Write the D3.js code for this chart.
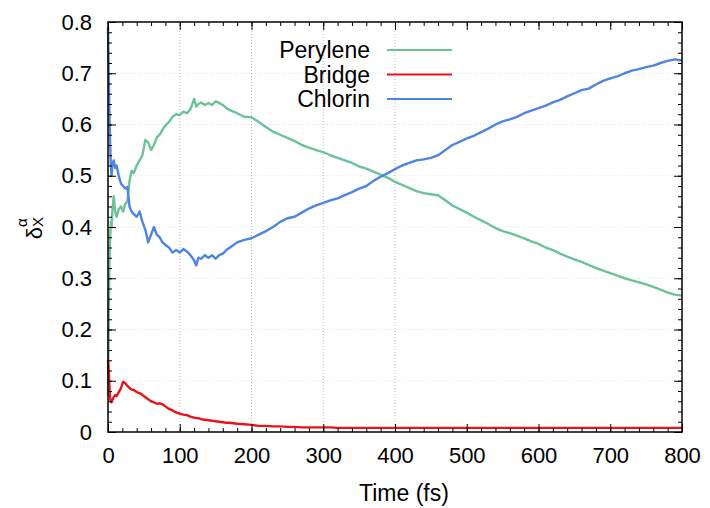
<!DOCTYPE html>
<html><head><meta charset="utf-8">
<script src="https://cdn.jsdelivr.net/npm/d3@7"></script>
<style>body{margin:0;background:#fff}svg{display:block}text{font-family:"Liberation Sans",Arial,sans-serif;fill:#000}</style>
</head><body>
<svg id="c" width="710" height="508"></svg>
<script>
const time = [0,1,2,3,4,5,6,8,10,12,15,18,21,24,27,30,33,36,40,44,48,52,56,60,64,68,72,76,80,85,90,95,100,105,110,115,120,123,126,130,135,140,145,150,155,160,165,
170,180,190,200,210,220,230,240,250,260,270,280,290,300,310,320,330,340,350,360,370,380,390,400,410,420,430,440,450,460,470,480,490,500,
510,520,530,540,550,560,570,580,590,600,610,620,630,640,650,660,670,680,690,700,710,720,730,740,750,760,770,780,790,800];

const perylene = [0.07,0.22,0.33,0.38,0.41,0.40,0.43,0.46,0.43,0.42,0.435,0.44,0.43,0.445,0.45,0.49,0.51,0.505,0.52,0.53,0.54,0.57,0.565,0.55,0.56,0.575,0.58,0.59,0.598,0.605,0.615,0.62,0.618,0.625,0.622,0.63,0.65,0.635,0.64,0.643,0.638,0.642,0.638,0.645,0.642,0.638,0.632,
0.628,0.622,0.615,0.614,0.605,0.595,0.586,0.58,0.574,0.568,0.56,0.555,0.55,0.546,0.54,0.535,0.53,0.525,0.518,0.514,0.508,0.502,0.496,0.488,0.482,0.476,0.47,0.466,0.464,0.462,0.452,0.442,0.435,0.428,
0.42,0.413,0.406,0.398,0.392,0.388,0.383,0.378,0.372,0.367,0.36,0.355,0.348,0.342,0.337,0.332,0.326,0.32,0.315,0.31,0.305,0.30,0.296,0.292,0.288,0.283,0.278,0.272,0.268,0.266];

const bridge = [0.14,0.12,0.09,0.065,0.06,0.058,0.062,0.068,0.072,0.07,0.078,0.085,0.098,0.095,0.09,0.086,0.083,0.082,0.078,0.076,0.072,0.068,0.064,0.06,0.058,0.055,0.056,0.054,0.05,0.045,0.042,0.038,0.036,0.034,0.033,0.03,0.028,0.027,0.027,0.025,0.024,0.023,0.022,0.021,0.02,0.019,0.018,
0.018,0.016,0.015,0.014,0.012,0.012,0.011,0.011,0.010,0.010,0.009,0.009,0.009,0.009,0.009,0.008,0.008,0.008,0.008,0.008,0.008,0.008,0.008,0.008,0.008,0.008,0.008,0.008,0.008,0.008,0.008,0.008,0.008,0.008,
0.008,0.008,0.008,0.008,0.008,0.008,0.008,0.008,0.008,0.008,0.008,0.008,0.008,0.008,0.008,0.008,0.008,0.008,0.008,0.008,0.008,0.008,0.008,0.008,0.008,0.008,0.008,0.008,0.008,0.008];

const chlorin = [0.79,0.70,0.62,0.56,0.52,0.50,0.52,0.53,0.515,0.52,0.50,0.485,0.48,0.475,0.478,0.44,0.43,0.425,0.42,0.43,0.41,0.395,0.37,0.385,0.40,0.385,0.38,0.37,0.365,0.36,0.35,0.355,0.35,0.357,0.352,0.345,0.335,0.325,0.34,0.338,0.345,0.34,0.345,0.338,0.345,0.348,0.355,
0.36,0.37,0.375,0.378,0.385,0.392,0.40,0.41,0.417,0.42,0.428,0.436,0.442,0.447,0.452,0.456,0.462,0.468,0.475,0.48,0.49,0.498,0.505,0.513,0.52,0.525,0.53,0.532,0.535,0.54,0.55,0.56,0.566,0.573,
0.578,0.585,0.592,0.60,0.606,0.61,0.615,0.622,0.627,0.632,0.637,0.643,0.648,0.655,0.661,0.667,0.67,0.678,0.685,0.69,0.694,0.70,0.705,0.708,0.712,0.715,0.72,0.724,0.727,0.725];

const seriesNames = ["Perylene","Bridge","Chlorin"];
const seriesColors = ["#6cc39a","#e8141c","#4f84e0"];
const xTicks = [0,100,200,300,400,500,600,700,800];
const yTicks = [0,0.1,0.2,0.3,0.4,0.5,0.6,0.7,0.8];
const xGrid = [100,200,300,400];

const svg = d3.select("#c");
const L=108,R=682,T=22,B=432;
const x = d3.scaleLinear().domain([0,800]).range([L,R]);
const y = d3.scaleLinear().domain([0,0.8]).range([B,T]);

// grid
const g = svg.append("g");
g.selectAll(".gx").data(xGrid).join("line")
 .attr("x1",d=>x(d)).attr("x2",d=>x(d)).attr("y1",T).attr("y2",B)
 .attr("stroke","#bbb").attr("stroke-width",1).attr("stroke-dasharray","1,2");
g.selectAll(".gy").data(yTicks.slice(1,-1)).join("line")
 .attr("y1",d=>y(d)).attr("y2",d=>y(d)).attr("x1",L).attr("x2",R)
 .attr("stroke","#e2e2e2").attr("stroke-width",1).attr("stroke-dasharray","1,2");

// lines
const data = [perylene,bridge,chlorin];
const line = d3.line().x((d,i)=>x(time[i])).y(d=>y(d));
data.forEach((s,k)=>{
  svg.append("path").datum(s).attr("d",line).attr("fill","none")
    .attr("stroke",seriesColors[k]).attr("stroke-width",2.4).attr("stroke-linejoin","round");
});

// axes with inward ticks
const xMinor = d3.range(0,801,20), yMinor = d3.range(0,0.801,0.02);
function axis(gen, tr){ return svg.append("g").attr("transform",tr).call(gen).call(a=>a.select(".domain").remove()); }
axis(d3.axisBottom(x).tickValues(xMinor).tickSize(-4).tickFormat(""),`translate(0,${B})`);
axis(d3.axisTop(x).tickValues(xMinor).tickSize(-4).tickFormat(""),`translate(0,${T})`);
axis(d3.axisLeft(y).tickValues(yMinor).tickSize(-4).tickFormat(""),`translate(${L},0)`);
axis(d3.axisRight(y).tickValues(yMinor).tickSize(-4).tickFormat(""),`translate(${R},0)`);
axis(d3.axisBottom(x).tickValues(xTicks).tickSize(-8).tickPadding(15).tickFormat(d3.format("d")),`translate(0,${B})`);
axis(d3.axisTop(x).tickValues(xTicks).tickSize(-8).tickFormat(""),`translate(0,${T})`);
axis(d3.axisLeft(y).tickValues(yTicks).tickSize(-8).tickPadding(16).tickFormat(d=>d===0?"0":d3.format(".1f")(d)),`translate(${L},0)`);
axis(d3.axisRight(y).tickValues(yTicks).tickSize(-8).tickFormat(""),`translate(${R},0)`);
svg.selectAll(".tick line").attr("stroke","#000").attr("stroke-width",1);
svg.selectAll(".tick text").style("font-family",'"Liberation Sans",Arial,sans-serif').style("font-size","22px").attr("fill","#000");

svg.append("rect").attr("x",L).attr("y",T).attr("width",R-L).attr("height",B-T)
 .attr("fill","none").attr("stroke","#000").attr("stroke-width",1.5);

// labels
svg.append("text").attr("x",404).attr("y",501).attr("text-anchor","middle").style("font-size","23px").text("Time (fs)");
const yt = svg.append("text").attr("transform","translate(42,228) rotate(-90)").attr("text-anchor","middle").style("font-size","22px");
yt.append("tspan").text("δ");
yt.append("tspan").attr("dy",1).style("font-size","15px").text("X");
yt.append("tspan").attr("dx",-10).attr("dy",-16).style("font-size","15px").text("α");

// legend
seriesNames.forEach((n,k)=>{
  const yy = 50 + k*24.5;
  svg.append("text").attr("x",370).attr("y",yy).attr("dy","0.35em").attr("text-anchor","end").style("font-size","23px").text(n);
  svg.append("line").attr("x1",387).attr("x2",452).attr("y1",yy).attr("y2",yy).attr("stroke",seriesColors[k]).attr("stroke-width",2);
});
</script>
</body></html>
